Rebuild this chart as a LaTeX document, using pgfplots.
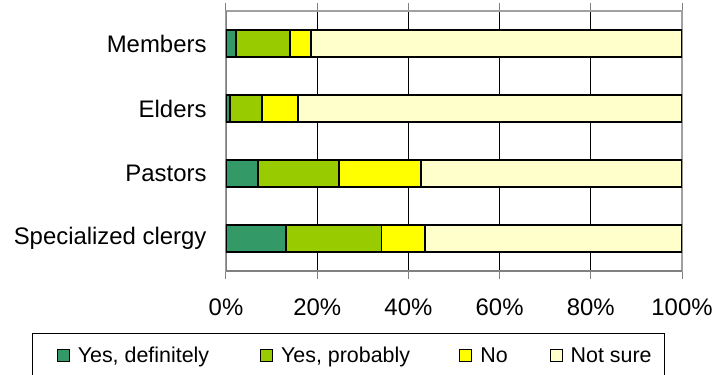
\documentclass[border=0pt]{standalone}
\usepackage{fontspec}
\setmainfont{Liberation Sans}
\usepackage{pgfplots}
\pgfplotsset{compat=1.18}

\definecolor{defgreen}{HTML}{339966}
\definecolor{probgreen}{HTML}{99CC00}
\definecolor{noyellow}{HTML}{FFFF00}
\definecolor{unsure}{HTML}{FFFFCC}
\definecolor{axisgray}{HTML}{808080}
\definecolor{framegray}{HTML}{A0A0A0}

% fixed-width legend text cells
\newcommand\legtext[2]{\makebox[#1][l]{#2}}

\pgfplotsset{
  sqlegend/.style={legend image code/.code={%
      \path (-24bp,0bp);
      \draw[##1, line width=1bp] (0bp,-6bp) rectangle (12bp,6bp);}},
}

\begin{document}
\begin{tikzpicture}
\begin{axis}[
  at={(0,0)}, anchor=south west,
  scale only axis, width=456bp, height=260bp,
  xbar stacked, bar width=27bp,
  xmin=0, xmax=100, ymin=-0.5, ymax=3.5,
  xtick={0,20,40,60,80,100},
  xticklabels={0\%,20\%,40\%,60\%,80\%,100\%},
  ytick={0,1,2,3},
  yticklabels={Specialized clergy,Pastors,Elders,Members},
  ytick style={draw=none},
  extra y ticks={-0.5,0.5,1.5,2.5,3.5},
  extra y tick labels={},
  extra y tick style={grid=none, tick style={draw=axisgray, line width=1bp}},
  xtick style={draw=axisgray, line width=1bp},
  tick align=outside, major tick length=8bp,
  xmajorgrids, major grid style={black, line width=0.8bp},
  axis line style={draw=framegray, line width=1.2bp},
  ticklabel style={font=\fontsize{24}{28}\selectfont},
  yticklabel style={xshift=-8bp},
  xticklabel style={yshift=-16bp},
  legend columns=4,
  legend style={at={(-0.4254,-0.2385)}, anchor=north west,
    draw=black, line width=0.9bp, inner xsep=0pt, inner ysep=14bp,
    font=\fontsize{21.5}{25}\selectfont,
    nodes={inner xsep=0pt, inner ysep=0pt},
    /tikz/every odd column/.append style={column sep=8bp}},
  legend cell align=left,
]
\addplot[fill=defgreen, draw=black, line width=1.6bp, sqlegend]
  coordinates {(13.1,0) (7.0,1) (0.9,2) (2.2,3)};
\addplot[fill=probgreen, draw=black, line width=1.6bp, sqlegend]
  coordinates {(21.0,0) (17.8,1) (7.0,2) (11.8,3)};
\addplot[fill=noyellow, draw=black, line width=1.6bp, sqlegend]
  coordinates {(9.5,0) (18.0,1) (7.9,2) (4.7,3)};
\addplot[fill=unsure, draw=black, line width=1.6bp, sqlegend]
  coordinates {(56.4,0) (57.2,1) (84.2,2) (81.3,3)};
\legend{\legtext{158bp}{Yes, definitely},\legtext{154bp}{Yes, probably},\legtext{45bp}{No},\legtext{94bp}{Not sure}}
% darker left and bottom axis lines
\draw[axisgray, line width=1.4bp] (rel axis cs:0,1) -- (rel axis cs:0,0) -- (rel axis cs:1,0);
\end{axis}
\pgfresetboundingbox
\useasboundingbox (-226bp,-104bp) rectangle (488bp,271bp);
\end{tikzpicture}
\end{document}
